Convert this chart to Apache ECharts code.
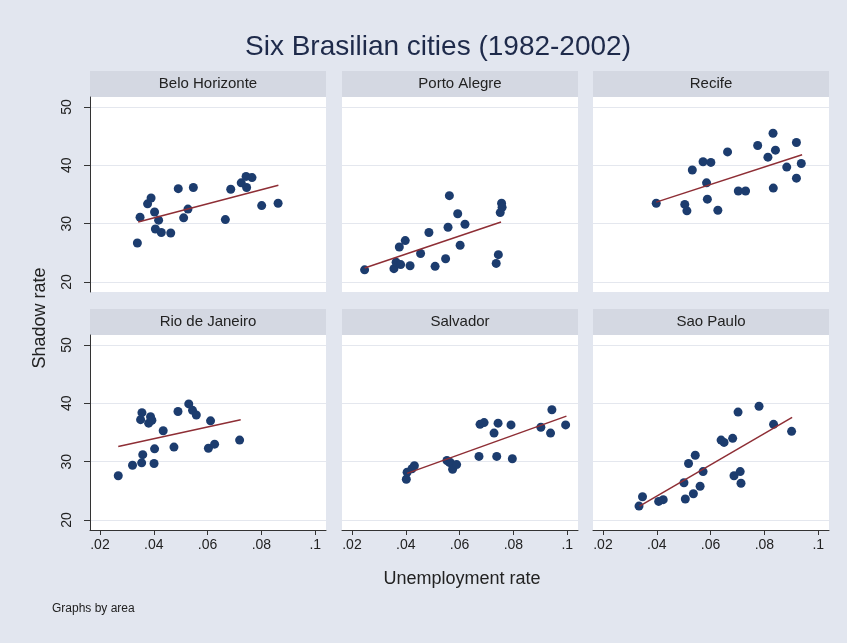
<!DOCTYPE html>
<html>
<head>
<meta charset="utf-8">
<script src="https://cdn.jsdelivr.net/npm/echarts@6/dist/echarts.min.js"></script>
<style>
  html, body { margin: 0; padding: 0; background: #E2E6EF; }
  #container { width: 847px; height: 643px; }
</style>
</head>
<body>
<div id="container"></div>
<script>
var cities = ['Belo Horizonte', 'Porto Alegre', 'Recife', 'Rio de Janeiro', 'Salvador', 'Sao Paulo'];

// unemployment rate (x) and shadow rate (y)
var unempBH = [0.0339, 0.0349, 0.0377, 0.0390, 0.0403, 0.0418, 0.0406, 0.0428, 0.0463, 0.0491, 0.0511, 0.0527, 0.0547, 0.0666, 0.0686, 0.0725, 0.0743, 0.0745, 0.0765, 0.0801, 0.0862];
var shadowBH = [26.7, 31.1, 33.4, 34.4, 32.0, 30.6, 29.1, 28.5, 28.4, 36.0, 31.0, 32.5, 36.2, 30.7, 35.9, 37.0, 38.1, 36.2, 37.9, 33.1, 33.5];

var unempPA = [0.0247, 0.0356, 0.0364, 0.0381, 0.0416, 0.0376, 0.0398, 0.0455, 0.0486, 0.0509, 0.0548, 0.0562, 0.0557, 0.0593, 0.0602, 0.0620, 0.0736, 0.0744, 0.0751, 0.0756, 0.0758];
var shadowPA = [22.1, 22.3, 23.4, 23.0, 22.8, 26.0, 27.1, 24.9, 28.5, 22.7, 24.0, 34.8, 29.4, 31.7, 26.3, 29.9, 23.2, 24.7, 31.9, 33.5, 32.8];

var unempRE = [0.0398, 0.0504, 0.0512, 0.0532, 0.0572, 0.0601, 0.0585, 0.0588, 0.0627, 0.0663, 0.0703, 0.0730, 0.0775, 0.0813, 0.0832, 0.0841, 0.0833, 0.0883, 0.0919, 0.0919, 0.0937];
var shadowRE = [33.5, 33.3, 32.2, 39.2, 40.6, 40.5, 37.0, 34.2, 32.3, 42.3, 35.6, 35.6, 43.4, 41.4, 45.5, 42.6, 36.1, 39.7, 43.9, 37.8, 40.3];

var unempRJ = [0.0268, 0.0321, 0.0355, 0.0359, 0.0401, 0.0403, 0.0351, 0.0356, 0.0381, 0.0388, 0.0393, 0.0435, 0.0475, 0.0490, 0.0530, 0.0544, 0.0558, 0.0603, 0.0611, 0.0626, 0.0719];
var shadowRJ = [27.6, 29.4, 29.8, 31.2, 29.7, 32.2, 37.2, 38.4, 36.6, 37.7, 37.1, 35.3, 32.5, 38.6, 39.9, 38.8, 38.0, 32.3, 37.0, 33.0, 33.7];

var unempSA = [0.0402, 0.0405, 0.0423, 0.0432, 0.0553, 0.0562, 0.0567, 0.0574, 0.0589, 0.0672, 0.0676, 0.0691, 0.0728, 0.0743, 0.0738, 0.0791, 0.0796, 0.0902, 0.0938, 0.0943, 0.0994];
var shadowSA = [27.0, 28.2, 28.8, 29.3, 30.2, 29.9, 29.8, 28.7, 29.5, 30.9, 36.4, 36.7, 34.9, 36.6, 30.9, 36.3, 30.5, 35.9, 34.9, 38.9, 36.3];

var unempSP = [0.0334, 0.0347, 0.0407, 0.0424, 0.0501, 0.0506, 0.0518, 0.0543, 0.0536, 0.0561, 0.0572, 0.0639, 0.0650, 0.0682, 0.0687, 0.0710, 0.0713, 0.0702, 0.0780, 0.0834, 0.0901];
var shadowSP = [22.4, 24.0, 23.2, 23.5, 26.4, 23.6, 29.7, 31.1, 24.5, 25.8, 28.3, 33.7, 33.3, 34.0, 27.6, 28.3, 26.3, 38.5, 39.5, 36.4, 35.2];

// fitted line end points per city
var fitX = [[0.0342, 0.0863], [0.0247, 0.0754], [0.0398, 0.0940], [0.0268, 0.0723], [0.0405, 0.0997], [0.0336, 0.0903]];
var fitY = [[30.3, 36.6], [22.4, 30.3], [33.7, 41.8], [32.6, 37.2], [28.0, 37.8], [22.4, 37.6]];

var xTicks = [0.02, 0.04, 0.06, 0.08, 0.1];
var yTicks = [20, 30, 40, 50];

var unempAll = [unempBH, unempPA, unempRE, unempRJ, unempSA, unempSP];
var shadowAll = [shadowBH, shadowPA, shadowRE, shadowRJ, shadowSA, shadowSP];

function zip(a, b) {
    var out = [];
    for (var i = 0; i < a.length; i++) {
        out.push([a[i], b[i]]);
    }
    return out;
}

function drawChart() {
    var dom = document.getElementById("container");
    var myChart = echarts.init(dom, null, {renderer: 'canvas'});
    var lefts = [90, 342, 593];
    var tops = [97, 335];
    var w = 236, h = 195;
    var font = 'Liberation Sans, Arial, sans-serif';

    var grids = [], xAxes = [], yAxes = [], series = [], graphics = [];
    for (var i = 0; i < 6; i++) {
        var col = i % 3, row = Math.floor(i / 3);
        var bottomRow = row == 1, leftCol = col == 0;
        grids.push({
            left: lefts[col], top: tops[row], width: w, height: h,
            show: true, backgroundColor: '#ffffff', borderWidth: 0
        });
        xAxes.push({
            type: 'value', gridIndex: i, min: 0.0163, max: 0.104,
            axisLine: {show: bottomRow, onZero: false, lineStyle: {color: '#333', width: 1}},
            axisTick: {show: bottomRow, customValues: xTicks, length: 5, lineStyle: {color: '#333'}},
            axisLabel: {
                show: bottomRow, customValues: xTicks, margin: 8,
                fontSize: 14, color: '#222', fontFamily: font,
                formatter: function (v) { return String(v).replace(/^0/, ''); }
            },
            splitLine: {show: false}
        });
        yAxes.push({
            type: 'value', gridIndex: i, min: 18.3, max: 51.7,
            axisLine: {show: leftCol, onZero: false, lineStyle: {color: '#333', width: 1}},
            axisTick: {show: leftCol, customValues: yTicks, length: 6, lineStyle: {color: '#333'}},
            axisLabel: {
                show: leftCol, customValues: yTicks, rotate: 90, margin: 16,
                fontSize: 14, color: '#222', fontFamily: font
            },
            splitLine: {show: true, lineStyle: {color: '#E4E7EE', width: 1}}
        });
        series.push({
            name: cities[i], type: 'scatter', xAxisIndex: i, yAxisIndex: i,
            data: zip(unempAll[i], shadowAll[i]),
            symbolSize: 9,
            itemStyle: {color: '#1C3C6E', opacity: 1}
        });
        series.push({
            name: cities[i] + ' fit', type: 'line', xAxisIndex: i, yAxisIndex: i,
            data: zip(fitX[i], fitY[i]),
            showSymbol: false,
            lineStyle: {color: '#8E2E35', width: 1.5}
        });
        graphics.push({
            type: 'rect',
            shape: {x: lefts[col], y: tops[row] - 26, width: w, height: 26},
            style: {fill: '#D4D8E2'}
        });
        graphics.push({
            type: 'text', x: lefts[col] + w / 2, y: tops[row] - 13,
            style: {
                text: cities[i], fill: '#222', font: '15px ' + font,
                textAlign: 'center', textVerticalAlign: 'middle'
            }
        });
    }

    graphics.push({
        type: 'text', x: 40, y: 318, rotation: Math.PI / 2,
        style: {text: 'Shadow rate', fill: '#222', font: '18px ' + font, textAlign: 'center', textVerticalAlign: 'middle'}
    });
    graphics.push({
        type: 'text', x: 462, y: 579,
        style: {text: 'Unemployment rate', fill: '#222', font: '18px ' + font, textAlign: 'center', textVerticalAlign: 'middle'}
    });
    graphics.push({
        type: 'text', x: 52, y: 609,
        style: {text: 'Graphs by area', fill: '#222', font: '12px ' + font, textAlign: 'left', textVerticalAlign: 'middle'}
    });

    var option = {
        backgroundColor: '#E2E6EF',
        animation: false,
        title: {
            text: 'Six Brasilian cities (1982-2002)',
            left: 433, top: 28, textAlign: 'center',
            textStyle: {fontSize: 28, fontWeight: 'normal', color: '#1E2A4A', fontFamily: font}
        },
        grid: grids,
        xAxis: xAxes,
        yAxis: yAxes,
        series: series,
        graphic: graphics
    };
    if (option && typeof option === "object") {
        myChart.setOption(option, true);
    }
}

drawChart();
</script>
</body>
</html>
